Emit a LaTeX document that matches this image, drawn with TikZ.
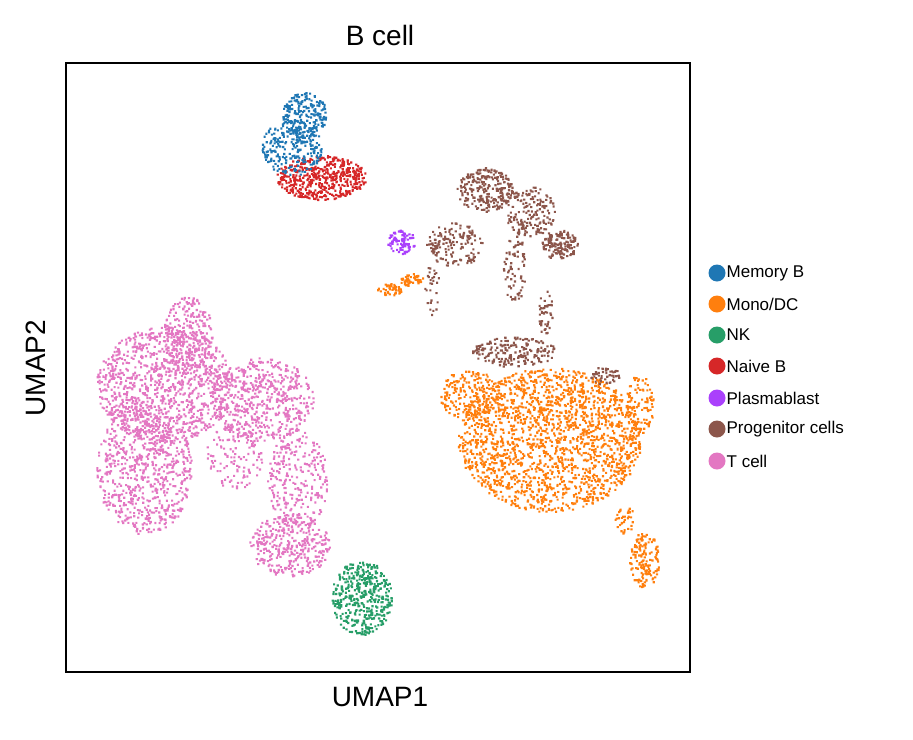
\documentclass[tikz,border=0pt]{standalone}
\usepackage{fontspec}
\setmainfont{Liberation Sans}
\definecolor{memb}{HTML}{1F77B4}
\definecolor{mono}{HTML}{FF7F0E}
\definecolor{nkc}{HTML}{279E68}
\definecolor{naib}{HTML}{D62728}
\definecolor{plas}{HTML}{AA40FC}
\definecolor{prog}{HTML}{8C564B}
\definecolor{tcel}{HTML}{E377C2}
\tikzset{
  legdot/.style={circle,fill=#1,inner sep=0pt,minimum size=17pt},
  legtext/.style={anchor=west,inner sep=0.75pt,font=\fontsize{17}{19}\selectfont},
}
% scatter blob: colour, cx, cy, rx, ry, count
\newcommand\umapblob[6]{%
  \fill[#1] \foreach \i in {1,...,#6}{%
    \pgfextra{\pgfmathsetmacro\rr{sqrt(rnd)}\pgfmathsetmacro\aa{360*rnd}}%
    ({#2+#4*\rr*cos(\aa)-1},{#3+#5*\rr*sin(\aa)-1}) rectangle ++(2.1,2.1)
  };}
\begin{document}
\begin{tikzpicture}[x=1pt,y=1pt,yscale=-1,xscale=1]
	\useasboundingbox (0,0) rectangle (913,739);
	\pgfmathsetseed{42}
	% T cell
	\umapblob{tcel}{165}{385}{68}{58}{1100}
	\umapblob{tcel}{145}{470}{48}{65}{700}
	\umapblob{tcel}{262}{400}{52}{42}{550}
	\umapblob{tcel}{188}{335}{25}{38}{250}
	\umapblob{tcel}{298}{480}{30}{50}{260}
	\umapblob{tcel}{290}{545}{40}{32}{360}
	\umapblob{tcel}{235}{455}{28}{35}{120}
	% NK
	\umapblob{nkc}{362}{598}{30}{38}{420}
	% Mono/DC
	\umapblob{mono}{550}{440}{92}{72}{1900}
	\umapblob{mono}{470}{395}{30}{25}{200}
	\umapblob{mono}{640}{405}{14}{30}{100}
	\umapblob{mono}{645}{560}{15}{28}{140}
	\umapblob{mono}{625}{520}{10}{15}{35}
	\umapblob{mono}{390}{290}{12}{6}{45}
	\umapblob{mono}{412}{280}{12}{6}{45}
	% Progenitor cells
	\umapblob{prog}{485}{190}{28}{22}{240}
	\umapblob{prog}{530}{212}{25}{25}{170}
	\umapblob{prog}{560}{245}{18}{15}{140}
	\umapblob{prog}{455}{245}{28}{22}{150}
	\umapblob{prog}{515}{270}{12}{35}{70}
	\umapblob{prog}{545}{312}{8}{22}{45}
	\umapblob{prog}{515}{352}{42}{15}{190}
	\umapblob{prog}{605}{375}{15}{10}{45}
	\umapblob{prog}{432}{290}{8}{25}{28}
	% Plasmablast
	\umapblob{plas}{402}{242}{14}{12}{80}
	% Naive B
	\umapblob{naib}{322}{178}{45}{22}{480}
	% Memory B
	\umapblob{memb}{292}{148}{30}{28}{260}
	\umapblob{memb}{305}{115}{22}{22}{190}
	
	% Frame
	\draw [line width=1.2] (66,63) rectangle (690,672);
	% Text Node
	\node (title) at (380,35) {\fontsize{28}{32}\selectfont B cell};
	\node (xlab) at (380,697) {\fontsize{28}{32}\selectfont UMAP1};
	\node [rotate=90] (ylab) at (36,368) {\fontsize{28}{32}\selectfont UMAP2};
	% Legend
	\node [legdot=memb] (lmemb) at (717,273) {};
	\node [legtext] at (lmemb.east) {Memory B};
	\node [legdot=mono] (lmono) at (717,304) {};
	\node [legtext] at (lmono.east) {Mono/DC};
	\node [legdot=nkc] (lnk) at (717,335) {};
	\node [legtext] at (lnk.east) {NK};
	\node [legdot=naib] (lnaib) at (717,366) {};
	\node [legtext] at (lnaib.east) {Naive B};
	\node [legdot=plas] (lplas) at (717,398) {};
	\node [legtext] at (lplas.east) {Plasmablast};
	\node [legdot=prog] (lprog) at (717,429) {};
	\node [legtext] at (lprog.east) {Progenitor cells};
	\node [legdot=tcel] (ltcel) at (717,461) {};
	\node [legtext] at (ltcel.east) {T cell};
\end{tikzpicture}
\end{document}
